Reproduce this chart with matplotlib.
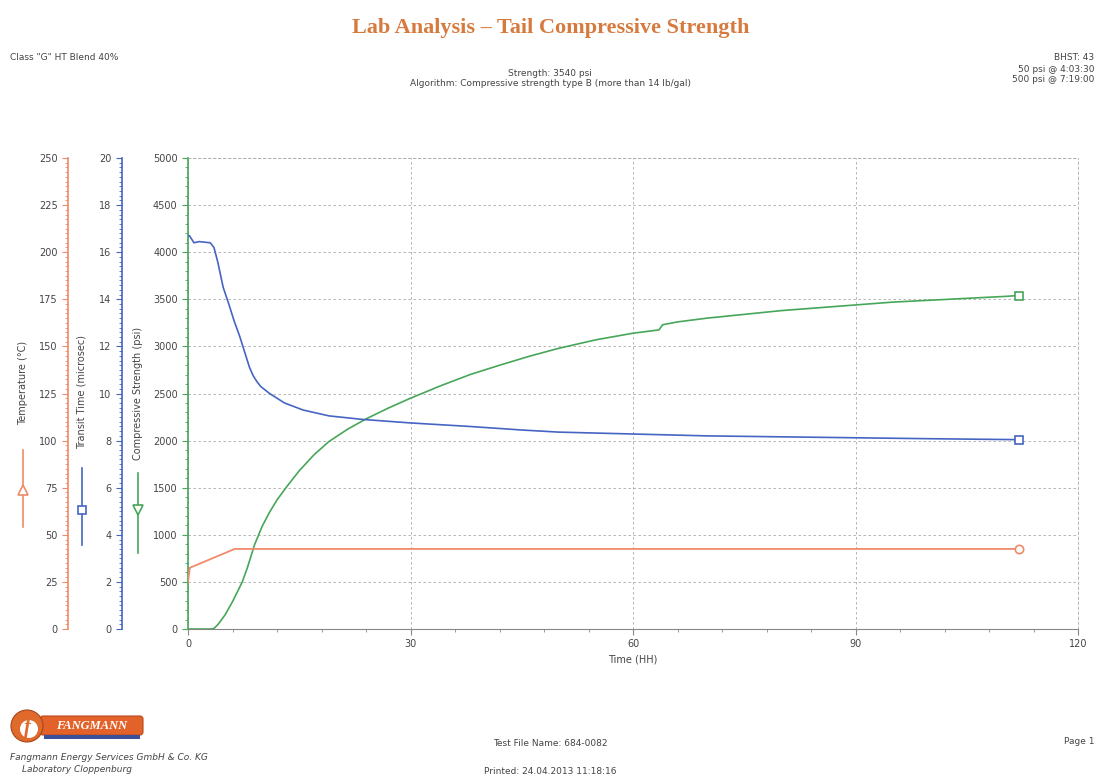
import numpy as np
import matplotlib
matplotlib.use("Agg")
import matplotlib.pyplot as plt
from matplotlib.lines import Line2D
from matplotlib.patches import Circle, FancyBboxPatch, Rectangle
from matplotlib.ticker import MultipleLocator

# compressive strength (psi) vs time (h)
cs_time = [0, 3, 3.5, 4.06, 5, 6, 7.32, 8, 9, 10, 11, 12, 13.5, 15, 17, 19, 21.5, 24, 27, 30,
           34, 38, 42, 46, 50, 55, 60, 63.5, 64, 66, 70, 75, 80, 85, 90, 95, 100, 105, 110, 112]
cs_psi = [0, 0, 5, 50, 150, 290, 500, 650, 900, 1090, 1240, 1370, 1530, 1680, 1850, 1990, 2120, 2230, 2345, 2450,
          2580, 2700, 2800, 2895, 2980, 3070, 3140, 3175, 3230, 3260, 3300, 3340, 3380, 3410, 3440, 3470, 3490, 3510,
          3530, 3540]

# transit time (microsec)
tt_time = [0, 0.2, 0.8, 1.5, 3, 3.5, 4, 4.75, 5.5, 6.2, 7, 7.8, 8.3, 8.8, 9.3, 9.8, 11, 13, 15.5,
           19, 23.5, 30, 38, 45, 50, 60, 70, 80, 90, 100, 112]
tt_us = [16.7, 16.7, 16.4, 16.45, 16.4, 16.2, 15.6, 14.5, 13.8, 13.1, 12.4, 11.6, 11.1, 10.75, 10.5, 10.3, 10.0,
         9.6, 9.3, 9.05, 8.9, 8.75, 8.6, 8.45, 8.36, 8.28, 8.2, 8.16, 8.12, 8.08, 8.04]

# temperature (degC)
temp_time = [0, 0.05, 0.25, 6.3, 112]
temp_c = [24.5, 26.5, 32.5, 42.5, 42.5]

c_temp = "#ef8a6a"
c_tt = "#4665c2"
c_cs = "#47a65a"
grid_c = "#aaaaaa"
txt_c = "#444444"
dash = (0, (3, 3))

fig = plt.figure(figsize=(11.02, 7.81), dpi=100)
ax = fig.add_axes([188 / 1102, 1 - 629 / 781, 890 / 1102, 471 / 781])

ax.plot(cs_time, cs_psi, color=c_cs, lw=1.2, zorder=4)
ax.plot(cs_time[-1], cs_psi[-1], marker="s", ms=6, mfc="white", mec=c_cs, mew=1.2, zorder=5)
ax.set_xlim(0, 120)
ax.set_ylim(0, 5000)
ax.xaxis.set_major_locator(MultipleLocator(30))
ax.xaxis.set_minor_locator(MultipleLocator(6))
ax.yaxis.set_major_locator(MultipleLocator(500))
ax.yaxis.set_minor_locator(MultipleLocator(100))
ax.grid(True, which="major", ls=dash, color=grid_c, lw=0.6)
for s in ("top", "right"):
    ax.spines[s].set_linestyle(dash)
    ax.spines[s].set_color(grid_c)
    ax.spines[s].set_linewidth(0.6)
ax.spines["bottom"].set_color("#888888")
ax.spines["left"].set_color(c_cs)
ax.spines["left"].set_linewidth(1.2)
ax.tick_params(axis="y", which="both", colors=c_cs, labelcolor=txt_c, labelsize=7)
ax.tick_params(axis="x", which="both", colors="#888888", labelcolor=txt_c, labelsize=7)
ax.tick_params(which="major", length=4)
ax.tick_params(which="minor", length=2)
ax.set_xlabel("Time (HH)", fontsize=7, color=txt_c, labelpad=4)

# transit time axis
ax_tt = ax.twinx()
ax_tt.plot(tt_time, tt_us, color=c_tt, lw=1.2, zorder=4)
ax_tt.plot(tt_time[-1], tt_us[-1], marker="s", ms=6, mfc="white", mec=c_tt, mew=1.2, zorder=5)
ax_tt.set_ylim(0, 20)
ax_tt.yaxis.set_major_locator(MultipleLocator(2))
ax_tt.yaxis.set_minor_locator(MultipleLocator(0.2))
ax_tt.yaxis.tick_left()
ax_tt.spines["left"].set_position(("outward", 66 * 0.72))
ax_tt.spines["left"].set_visible(True)
ax_tt.spines["left"].set_color(c_tt)
ax_tt.spines["left"].set_linewidth(1.2)
for s in ("top", "right", "bottom"):
    ax_tt.spines[s].set_visible(False)
ax_tt.tick_params(axis="y", which="both", colors=c_tt, labelcolor=txt_c, labelsize=7)
ax_tt.tick_params(which="major", length=4)
ax_tt.tick_params(which="minor", length=2)

# temperature axis
ax_t = ax.twinx()
ax_t.plot(temp_time, temp_c, color=c_temp, lw=1.3, zorder=4)
ax_t.plot(temp_time[-1], temp_c[-1], marker="o", ms=6, mfc="white", mec=c_temp, mew=1.2, zorder=5)
ax_t.set_ylim(0, 250)
ax_t.yaxis.set_major_locator(MultipleLocator(25))
ax_t.yaxis.set_minor_locator(MultipleLocator(2.5))
ax_t.yaxis.tick_left()
ax_t.spines["left"].set_position(("outward", 120 * 0.72))
ax_t.spines["left"].set_visible(True)
ax_t.spines["left"].set_color(c_temp)
ax_t.spines["left"].set_linewidth(1.2)
for s in ("top", "right", "bottom"):
    ax_t.spines[s].set_visible(False)
ax_t.tick_params(axis="y", which="both", colors=c_temp, labelcolor=txt_c, labelsize=7)
ax_t.tick_params(which="major", length=4)
ax_t.tick_params(which="minor", length=2)

W, H = 1102, 781


def fx(px):
    return px / W


def fy(py):
    return 1 - py / H


# axis titles with their series symbols
fig.text(fx(23), fy(383), "Temperature (°C)", rotation=90, ha="center", va="center", fontsize=7, color=txt_c)
fig.add_artist(Line2D([fx(23), fx(23)], [fy(450), fy(527)], color=c_temp, lw=1.2))
fig.add_artist(Line2D([fx(23)], [fy(490)], marker="^", ms=7, mfc="white", mec=c_temp, mew=1.2, color=c_temp))

fig.text(fx(82), fy(392), "Transit Time (microsec)", rotation=90, ha="center", va="center", fontsize=7, color=txt_c)
fig.add_artist(Line2D([fx(82), fx(82)], [fy(468), fy(545)], color=c_tt, lw=1.2))
fig.add_artist(Line2D([fx(82)], [fy(510)], marker="s", ms=6, mfc="white", mec=c_tt, mew=1.2, color=c_tt))

fig.text(fx(138), fy(393), "Compressive Strength (psi)", rotation=90, ha="center", va="center", fontsize=7, color=txt_c)
fig.add_artist(Line2D([fx(138), fx(138)], [fy(473), fy(553)], color=c_cs, lw=1.2))
fig.add_artist(Line2D([fx(138)], [fy(510)], marker="v", ms=7, mfc="white", mec=c_cs, mew=1.2, color=c_cs))

# page header
fig.text(0.5, fy(28), "Lab Analysis \u2013 Tail Compressive Strength", ha="center", va="center",
         fontsize=16, fontweight="bold", family="Liberation Serif", color="#d77a3e")
fig.text(fx(10), fy(58), 'Class "G" HT Blend 40%', ha="left", va="center", fontsize=6.5, color=txt_c)
fig.text(fx(550), fy(73), "Strength: 3540 psi", ha="center", va="center", fontsize=6.5, color=txt_c)
fig.text(fx(550), fy(84), "Algorithm: Compressive strength type B (more than 14 lb/gal)",
         ha="center", va="center", fontsize=6.5, color=txt_c)
fig.text(fx(1094), fy(58), "BHST: 43", ha="right", va="center", fontsize=6.5, color=txt_c)
fig.text(fx(1094), fy(69), "50 psi @ 4:03:30", ha="right", va="center", fontsize=6.5, color=txt_c)
fig.text(fx(1094), fy(80), "500 psi @ 7:19:00", ha="right", va="center", fontsize=6.5, color=txt_c)

# footer with company logo
logo = fig.add_axes([0, 0, 1, 1], zorder=-1)
logo.set_xlim(0, W)
logo.set_ylim(H, 0)
logo.axis("off")
logo.add_patch(FancyBboxPatch((40, 716), 103, 19, boxstyle="round,pad=0,rounding_size=3",
                              fc="#e2622a", ec="#b84a1c", lw=0.8))
logo.add_patch(Rectangle((44, 735), 96, 4, fc="#3b4f9a", ec="none"))
logo.add_patch(Circle((27, 726), 16, fc="#e06a2c", ec="#a8461b", lw=0.8))
logo.add_patch(Circle((29, 729), 9, fc="white", ec="none"))
logo.text(28, 728, "f", ha="center", va="center", fontsize=15, fontweight="bold",
          style="italic", family="Liberation Serif", color="#e06a2c")
logo.text(92, 726, "FANGMANN", ha="center", va="center", fontsize=9, fontweight="bold",
          style="italic", family="Liberation Serif", color="white")
fig.text(fx(10), fy(758), "Fangmann Energy Services GmbH & Co. KG", ha="left", va="center",
         fontsize=6.5, style="italic", color=txt_c)
fig.text(fx(22), fy(769), "Laboratory Cloppenburg", ha="left", va="center",
         fontsize=6.5, style="italic", color=txt_c)
fig.text(fx(550), fy(743), "Test File Name: 684-0082", ha="center", va="center", fontsize=6.5, color=txt_c)
fig.text(fx(550), fy(771), "Printed: 24.04.2013 11:18:16", ha="center", va="center", fontsize=6.5, color=txt_c)
fig.text(fx(1094), fy(742), "Page 1", ha="right", va="center", fontsize=6.5, color=txt_c)

fig.savefig("out.png", dpi=100)
